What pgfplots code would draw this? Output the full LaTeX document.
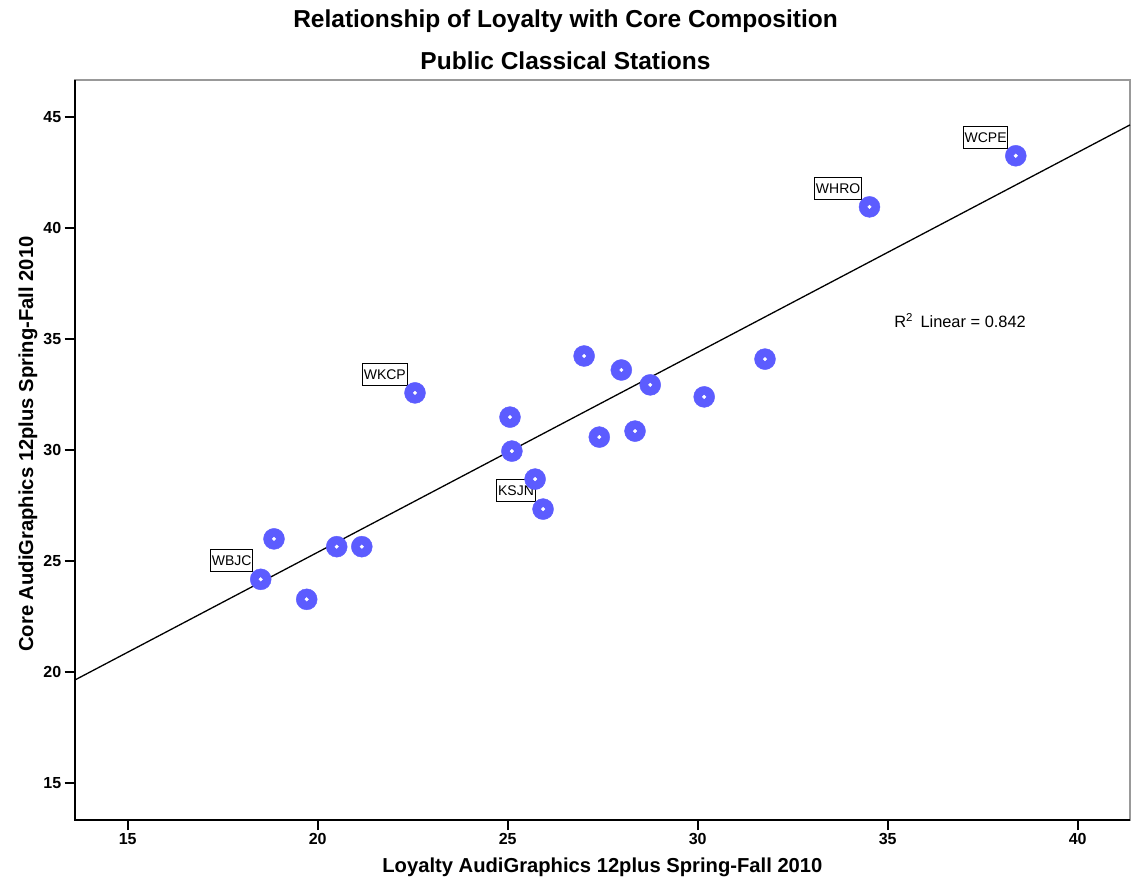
\documentclass[border=0pt]{standalone}
\usepackage{fontspec}
\setmainfont{Liberation Sans}
\usepackage{pgfplots}
\usepackage{pgfplotstable}
\pgfplotsset{compat=1.18}
\definecolor{ptblue}{RGB}{92,92,255}
\pgfplotstableread{
x y
38.37 43.24
34.52 40.94
31.77 34.09
30.17 32.39
28.75 32.93
27.99 33.60
27.01 34.23
28.35 30.85
27.41 30.58
25.06 31.48
25.11 29.95
25.72 28.69
25.93 27.34
22.56 32.57
21.16 25.65
20.50 25.65
18.85 26.00
18.50 24.18
19.71 23.28
}\datatable
\begin{document}
\begin{tikzpicture}
\useasboundingbox (0,0) rectangle (1131pt,889pt);
\begin{axis}[
  at={(74.7pt,69pt)}, anchor=south west,
  scale only axis, width=1055.3pt, height=740pt,
  xmin=13.605, xmax=41.376, ymin=13.35, ymax=46.65,
  xtick={15,20,25,30,35,40}, ytick={15,20,25,30,35,40,45},
  tick align=outside, major tick length=10pt,
  tick pos=left,
  axis line style={draw=gray!80, line width=1.2pt},
  tick style={black, line width=1.8pt},
  tick label style={font=\bfseries\fontsize{16}{16}\selectfont},
  /pgf/number format/assume math mode=true,
  clip=false,
]
\addplot[only marks, color=ptblue, mark=*, mark size=10.5pt, mark options={solid, fill=ptblue}] table {\datatable};
\addplot[only marks, color=white, mark=*, mark size=1.8pt, mark options={solid, fill=white}] table {\datatable};
\addplot[black, line width=1.3pt] coordinates {(13.605,19.645) (41.376,44.63)};
\draw[black, line width=2pt] (rel axis cs:0,1) -- (rel axis cs:0,0) -- (rel axis cs:1,0);
\tikzset{lab/.style={draw, fill=white, line width=1pt, font=\fontsize{14}{14}\selectfont, inner xsep=1.2pt, minimum height=22pt, anchor=south east, xshift=-7.5pt, yshift=7pt}}
\node[lab] at (axis cs:38.37,43.24) {WCPE};
\node[lab] at (axis cs:34.52,40.94) {WHRO};
\node[lab] at (axis cs:22.56,32.57) {WKCP};
\node[lab] at (axis cs:25.93,27.34) {KSJN};
\node[lab] at (axis cs:18.50,24.18) {WBJC};
\node[anchor=base west, font=\fontsize{16.4}{16.4}\selectfont, inner sep=0pt] at (axis cs:35.17,35.49) {R\textsuperscript{2}\hspace{0.45em}Linear = 0.842};
\end{axis}
\node[anchor=base, font=\bfseries\fontsize{24.5}{24.5}\selectfont] at (565.5pt,861.7pt) {Relationship of Loyalty with Core Composition};
\node[anchor=base, font=\bfseries\fontsize{24.5}{24.5}\selectfont] at (565.5pt,819.7pt) {Public Classical Stations};
\node[anchor=base, font=\bfseries\fontsize{20.2}{20.2}\selectfont] at (602.4pt,17pt) {Loyalty AudiGraphics 12plus Spring-Fall 2010};
\node[anchor=base, rotate=90, font=\bfseries\fontsize{20.2}{20.2}\selectfont] at (33pt,445pt) {Core AudiGraphics 12plus Spring-Fall 2010};
\end{tikzpicture}
\end{document}
